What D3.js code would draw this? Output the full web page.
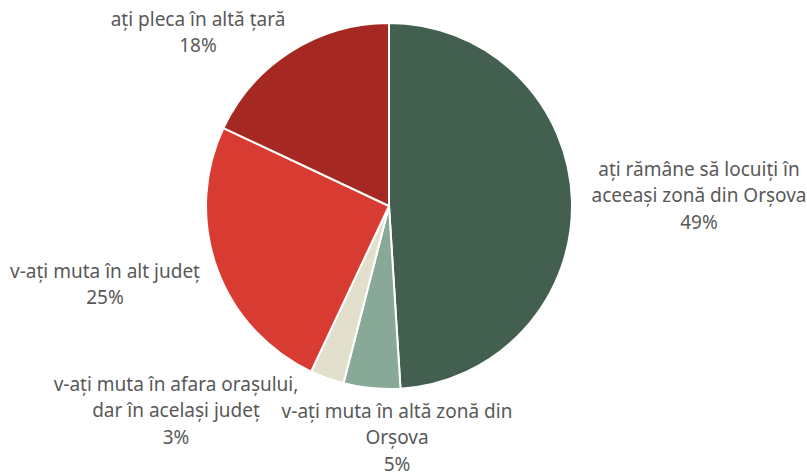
<!DOCTYPE html>
<html>
<head>
<meta charset="utf-8">
<script src="https://cdn.jsdelivr.net/npm/d3@7"></script>
<style>
  body{ margin:0; background:#fff; }
  svg text{ font-family:"Noto Sans", "Open Sans", sans-serif; font-size:19px; fill:#595959; }
</style>
</head>
<body>
<svg id="chart" width="807" height="474"></svg>
<script>
// date
var categories = [
	["ați rămâne să locuiți în", "aceeași zonă din Orșova"]
	,["v-ați muta în altă zonă din", "Orșova"]
	,["v-ați muta în afara orașului,", "dar în același județ"]
	,["v-ați muta în alt județ"]
	,["ați pleca în altă țară"]
];
var values = [49, 5, 3, 25, 18];
var colors = ["#435f50", "#88a898", "#e2e0cd", "#d83b32", "#a52822"];
// poziția etichetelor (centrul primului rând)
var labelPos = [[699, 176], [397, 418], [176, 391], [105, 278], [198, 26]];

var svg = d3.select('#chart')
	,cx = 389, cy = 206, r = 183
	,lineH = 26.3;

var pie = d3.pie().sort(null).value(function(d){ return d; });
var arc = d3.arc().innerRadius(0).outerRadius(r);
var arcs = pie(values);

var g = svg.append('g').attr('transform','translate('+cx+','+cy+')');
g.selectAll('path')
	.data(arcs)
	.enter().append('path')
	.attr('d', arc)
	.attr('fill', function(d,i){ return colors[i]; })
	.attr('stroke', '#fff')
	.attr('stroke-width', 2);

var labels = svg.selectAll('text.lbl')
	.data(arcs)
	.enter().append('text')
	.attr('class','lbl')
	.attr('text-anchor','middle')
	.attr('transform', function(d,i){ return 'translate('+labelPos[i][0]+','+labelPos[i][1]+')'; });

labels.each(function(d,i){
	var t = d3.select(this);
	var lines = categories[i].concat([d.data + '%']);
	lines.forEach(function(s,k){
		t.append('tspan').attr('x',0).attr('y', k*lineH).text(s);
	});
});
</script>
</body>
</html>
